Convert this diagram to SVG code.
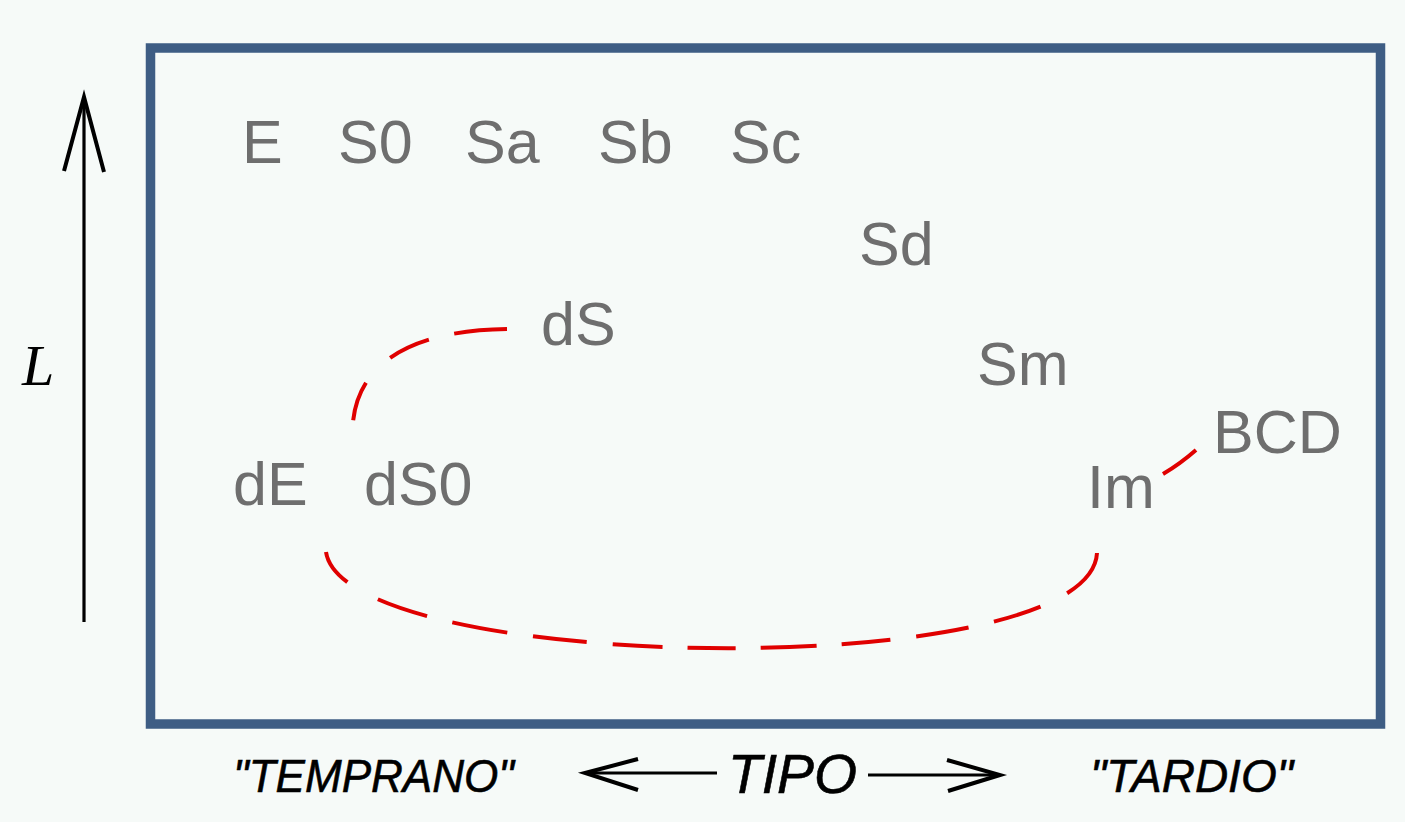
<svg xmlns="http://www.w3.org/2000/svg" width="1405" height="822" viewBox="0 0 1405 822">
  <style>
    .type { font-family: "Liberation Sans", Arial, sans-serif; font-size: 61px; fill: #6e6e6e; }
    .axis { font-family: "Liberation Sans", Arial, sans-serif; font-style: italic; fill: #000; stroke: #000; stroke-width: 0.6; }
    .seq { fill: none; stroke: #e00000; stroke-width: 4; stroke-linecap: butt; }
    .ax { fill: none; stroke: #000; stroke-width: 3.2; }
    .head { fill: none; stroke: #000; stroke-width: 4; stroke-linejoin: miter; }
  </style>

  <!-- background and frame -->
  <rect x="0" y="0" width="1405" height="822" fill="#f6faf8"/>
  <rect id="frame" x="150.5" y="48" width="1230" height="676" fill="#f6faf8" stroke="#3e5d84" stroke-width="9.5"/>

  <!-- luminosity axis -->
  <g id="axis-L">
    <line class="ax" x1="84" y1="98" x2="84" y2="622"/>
    <polyline class="head" points="64,171 84,97 104,172"/>
    <text x="22" y="385" font-family="'Liberation Serif', 'Times New Roman', serif" font-style="italic" font-size="58" fill="#000">L</text>
  </g>

  <!-- type axis -->
  <g id="axis-tipo">
    <text class="axis" x="233" y="792" font-size="47" textLength="281" lengthAdjust="spacingAndGlyphs">"TEMPRANO"</text>
    <line class="ax" x1="585" y1="773" x2="717" y2="773"/>
    <polyline class="head" points="638,759 585,773 638,790"/>
    <text class="axis" x="728" y="793" font-size="56" textLength="129" lengthAdjust="spacingAndGlyphs">TIPO</text>
    <line class="ax" x1="868" y1="775" x2="1000" y2="775"/>
    <polyline class="head" points="947,760 1000,775 948,791"/>
    <text class="axis" x="1090" y="792" font-size="47" textLength="203" lengthAdjust="spacingAndGlyphs">"TARDIO"</text>
  </g>

  <!-- dwarf sequence connectors -->
  <g id="connectors">
    <path class="seq" d="M507,329 C430,330 360,352 353,422" stroke-dasharray="53 26 43 35 40"/>
    <path class="seq" d="M326,552 C345,675 1090,685 1097,553" stroke-dasharray="38 35 52 26 56 26 54 26 50 25 48 25 56 25 49 26 53 26 49 30 60"/>
    <path class="seq" d="M1163,474 Q1180,464 1196,450"/>
  </g>

  <!-- morphological types -->
  <g id="node-E"><text class="type" x="242" y="163">E</text></g>
  <g id="node-S0"><text class="type" x="338" y="163">S0</text></g>
  <g id="node-Sa"><text class="type" x="465" y="163">Sa</text></g>
  <g id="node-Sb"><text class="type" x="598" y="163">Sb</text></g>
  <g id="node-Sc"><text class="type" x="730" y="163">Sc</text></g>
  <g id="node-Sd"><text class="type" x="859" y="265">Sd</text></g>
  <g id="node-dS"><text class="type" x="541" y="345">dS</text></g>
  <g id="node-Sm"><text class="type" x="977" y="385">Sm</text></g>
  <g id="node-BCD"><text class="type" x="1213" y="453">BCD</text></g>
  <g id="node-dE"><text class="type" x="233" y="505">dE</text></g>
  <g id="node-dS0"><text class="type" x="364" y="505">dS0</text></g>
  <g id="node-Im"><text class="type" x="1087" y="508">Im</text></g>
</svg>
